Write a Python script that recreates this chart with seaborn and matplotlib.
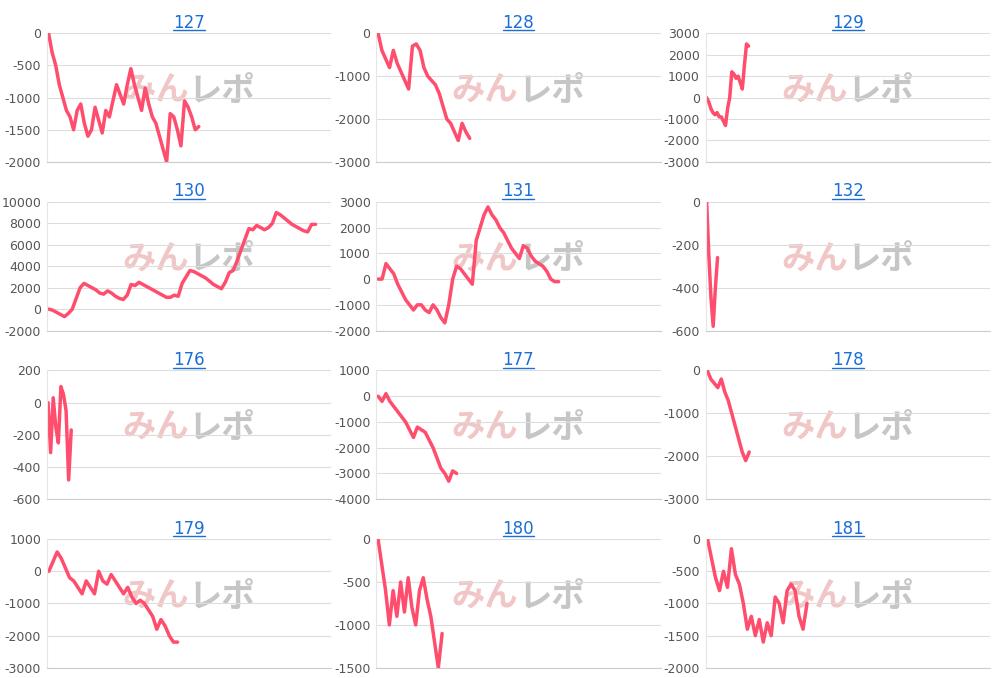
import numpy as np
import matplotlib
matplotlib.use("Agg")
import matplotlib.pyplot as plt
import seaborn as sns

sns.set_style("white")
plt.rcParams['font.family'] = ['DejaVu Sans', 'Noto Sans CJK JP']

titles = ["127", "128", "129", "130", "131", "132", "176", "177", "178", "179", "180", "181"]

s127 = [0, -300, -500, -800, -1000, -1200, -1300, -1500, -1200, -1100, -1400, -1600, -1500, -1150, -1350,
        -1550, -1200, -1300, -1050, -800, -950, -1100, -800, -550, -800, -1000, -1200, -850, -1100, -1300,
        -1400, -1600, -1800, -2000, -1250, -1300, -1500, -1750, -1050, -1150, -1300, -1500, -1450]
s128 = [0, -400, -600, -800, -400, -700, -900, -1100, -1300, -300, -250, -400, -800, -1000, -1100, -1200,
        -1400, -1700, -2000, -2100, -2300, -2500, -2100, -2300, -2450]
s129 = [0, -200, -500, -700, -800, -700, -900, -900, -1100, -1300, -500, 0, 1200, 1100, 900, 1000, 700,
        400, 1500, 2500, 2400]
s130 = [0, -100, -300, -500, -700, -400, 0, 1000, 2000, 2400, 2200, 2000, 1800, 1500, 1400, 1700, 1500,
        1200, 1000, 900, 1300, 2300, 2200, 2500, 2300, 2100, 1900, 1700, 1500, 1300, 1100, 1100, 1300, 1200,
        2400, 3000, 3600, 3500, 3300, 3100, 2900, 2600, 2300, 2100, 1900, 2500, 3400, 3600, 4500, 5500, 6500,
        7500, 7400, 7800, 7600, 7400, 7600, 8000, 9000, 8800, 8500, 8200, 7900, 7700, 7500, 7300, 7200,
        7900, 7900]
s131 = [0, 0, 600, 400, 200, -200, -500, -800, -1000, -1200, -1000, -1000, -1200, -1300, -1000, -1200,
        -1500, -1700, -1000, 0, 500, 400, 200, 0, -200, 1500, 2000, 2500, 2800, 2500, 2300, 2000, 1800,
        1500, 1200, 1000, 800, 1300, 1200, 900, 700, 600, 500, 300, 0, -100, -100]
s132 = [0, -250, -450, -580, -400, -260]
s176 = [0, -310, 30, -150, -250, 100, 50, -50, -480, -170]
s177 = [0, -200, 100, -200, -400, -600, -800, -1000, -1300, -1600, -1200, -1300, -1400, -1700, -2000,
        -2400, -2800, -3000, -3300, -2900, -3000]
s178 = [0, -200, -300, -400, -200, -500, -700, -1000, -1300, -1600, -1900, -2100, -1900]
s179 = [0, 300, 600, 400, 100, -200, -300, -500, -700, -300, -500, -700, 0, -300, -400, -100, -300, -500,
        -700, -500, -800, -1000, -900, -1000, -1200, -1400, -1800, -1500, -1700, -2000, -2200, -2200]
s180 = [0, -300, -600, -1000, -600, -900, -500, -850, -450, -800, -1000, -600, -450, -700, -900, -1200,
        -1500, -1100]
s181 = [0, -300, -600, -800, -500, -750, -150, -550, -700, -1000, -1400, -1200, -1500, -1250, -1600, -1300,
        -1500, -900, -1000, -1300, -800, -700, -800, -1200, -1400, -1000]
series = [s127, s128, s129, s130, s131, s132, s176, s177, s178, s179, s180, s181]

x_max = [79, 74, 135, 72, 72, 130, 110, 72, 81, 68, 75, 71]
y_ticks = [
    [-2000, -1500, -1000, -500, 0],
    [-3000, -2000, -1000, 0],
    [-3000, -2000, -1000, 0, 1000, 2000, 3000],
    [-2000, 0, 2000, 4000, 6000, 8000, 10000],
    [-2000, -1000, 0, 1000, 2000, 3000],
    [-600, -400, -200, 0],
    [-600, -400, -200, 0, 200],
    [-4000, -3000, -2000, -1000, 0, 1000],
    [-3000, -2000, -1000, 0],
    [-3000, -2000, -1000, 0, 1000],
    [-1500, -1000, -500, 0],
    [-2000, -1500, -1000, -500, 0],
]

fig, axes = plt.subplots(4, 3, figsize=(9.95, 6.78), dpi=100)
fig.subplots_adjust(left=0.047, right=0.995, top=0.951, bottom=0.015, wspace=0.158, hspace=0.31)

for ax, t, s, xm, yt in zip(axes.flat, titles, series, x_max, y_ticks):
    sns.lineplot(x=np.arange(len(s)), y=s, ax=ax, color="#ff4d6d", lw=2.5)
    ax.set_xlim(-0.5, xm)
    ax.set_ylim(yt[0], yt[-1])
    ax.set_yticks(yt)
    ax.set_yticklabels([str(v) for v in yt])
    ax.set_xticks([])
    ax.tick_params(axis="y", length=0, labelsize=9, labelcolor="#555555", pad=4)
    ax.grid(axis="y", color="#dddddd", lw=0.8)
    for side in ["top", "right"]:
        ax.spines[side].set_visible(False)
    ax.spines["left"].set_color("#e6e6e6")
    ax.spines["bottom"].set_color("#cccccc")
    ax.set_title(t, color="#1a6fd6", fontsize=12, pad=4)
    # watermark logo approximation
    ax.text(0.5, 0.55, "みん", transform=ax.transAxes, ha="right", va="center", fontsize=24,
            fontweight="bold", style="italic", color="#e8a0a0", alpha=0.6, family="Noto Sans CJK JP", zorder=0)
    ax.text(0.5, 0.55, "レポ", transform=ax.transAxes, ha="left", va="center", fontsize=24,
            fontweight="bold", style="italic", color="#a0a0a0", alpha=0.6, family="Noto Sans CJK JP", zorder=0)

# underline titles
fig.canvas.draw()
for ax in axes.flat:
    bb = ax.title.get_window_extent().transformed(fig.transFigure.inverted())
    fig.add_artist(plt.Line2D([bb.x0, bb.x1], [bb.y0 + 0.002, bb.y0 + 0.002], color="#1a6fd6", lw=1,
                              transform=fig.transFigure))

fig.savefig("out.png", dpi=100)
